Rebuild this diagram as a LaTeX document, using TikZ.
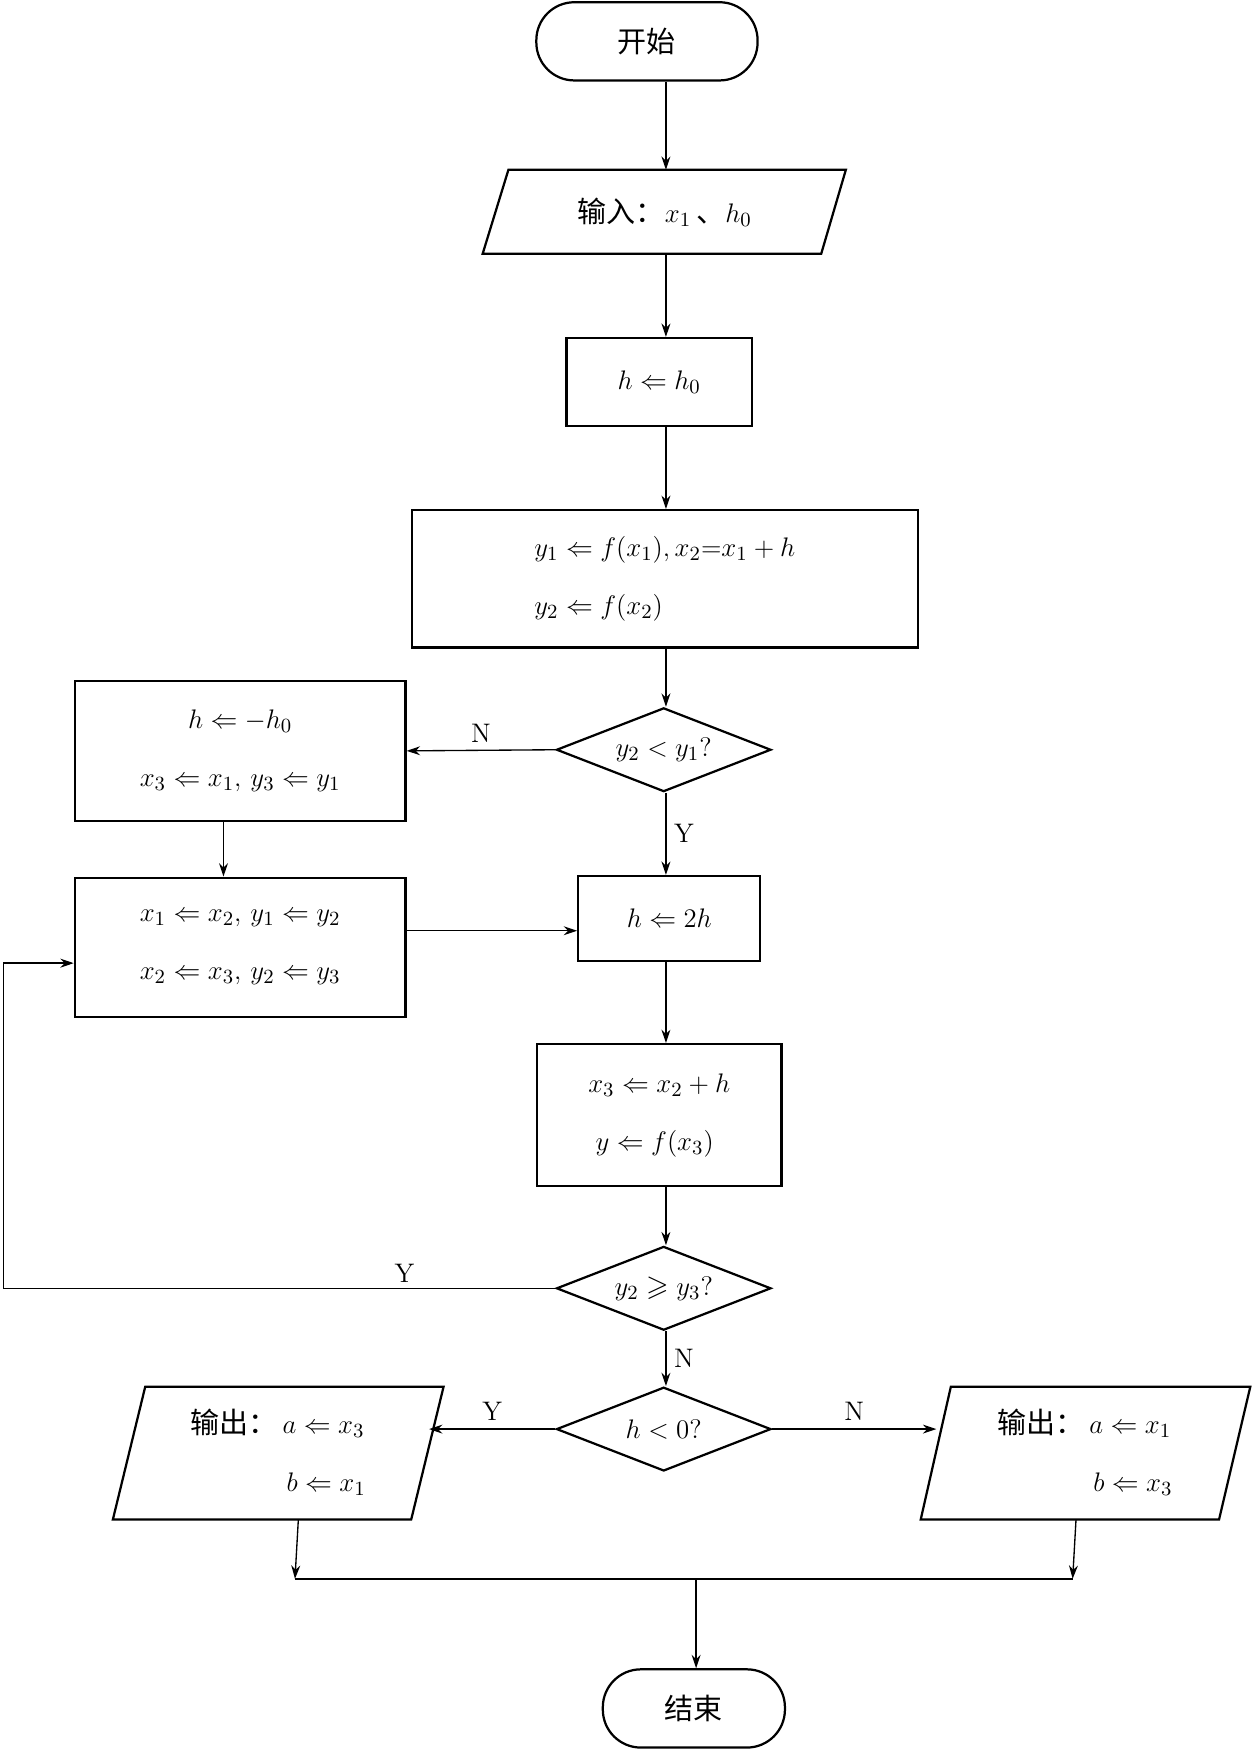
\documentclass[tikz,border=0pt]{standalone}
\usepackage{amssymb}
\usepackage{fontspec}
\newfontfamily\cjk{Noto Sans CJK SC}
\usetikzlibrary{arrows.meta,shapes.geometric}
\begin{document}
\begin{tikzpicture}[x=0.5pt,y=-0.5pt,
  every node/.style={font=\fontsize{13}{26}\selectfont},
  dia/.style={draw,line width=1pt,diamond,minimum width=96pt,minimum height=37.5pt,inner sep=0pt},
  ar/.style={-{Stealth[length=6pt,width=4pt]},line width=0.6pt},
  ln/.style={line width=0.6pt},
  lab/.style={font=\fontsize{12}{14}\selectfont}]
\useasboundingbox (0,0) rectangle (1122,1568);
% start / end
\node[draw,line width=1pt,rounded corners=17pt,minimum width=99pt,minimum height=35pt] (st) at (579,37) {\cjk 开始};
\node[draw,line width=1pt,rounded corners=17pt,minimum width=81.5pt,minimum height=35pt] (en) at (621,1529) {\cjk 结束};
% input parallelogram
\draw[line width=1pt] (455,152)--(757,152)--(735,227)--(432,227)--cycle;
\node (in) at (595,190) {{\cjk 输入：}$x_1$\,{\cjk 、}$h_0$};
\coordinate (inT) at (596,152); \coordinate (inB) at (596,227);
% boxes
\node[draw,line width=1pt,minimum width=83pt,minimum height=39.5pt] (b1) at (590,342) {$h\Leftarrow h_0$};
\node[draw,line width=1pt,minimum width=226.5pt,minimum height=61.5pt,align=left] (b2) at (595,518) {$y_1\Leftarrow f(x_1),x_2{=}x_1+h$\\$y_2\Leftarrow f(x_2)$};
\node[dia] (d1) at (594,671) {};
\node at (594,671) {$y_2<y_1?$};
\node[draw,line width=1pt,minimum width=148pt,minimum height=62.5pt,align=center] (l1) at (215,672) {$h\Leftarrow -h_0$\\$x_3\Leftarrow x_1,\,y_3\Leftarrow y_1$};
\node[draw,line width=1pt,minimum width=81.5pt,minimum height=38pt] (b3) at (599,822) {$h\Leftarrow 2h$};
\node[draw,line width=1pt,minimum width=148pt,minimum height=62.5pt,align=left] (l2) at (215,848) {$x_1\Leftarrow x_2,\,y_1\Leftarrow y_2$\\$x_2\Leftarrow x_3,\,y_2\Leftarrow y_3$};
\node[draw,line width=1pt,minimum width=109.5pt,minimum height=63.5pt,align=left] (b4) at (590,998) {$x_3\Leftarrow x_2+h$\\$\;y\Leftarrow f(x_3)$};
\node[dia] (d2) at (594,1153) {};
\node at (594,1153) {$y_2\geqslant y_3?$};
\node[dia] (d3) at (594,1279) {};
\node at (594,1279) {$h<0?$};
% output parallelograms
\draw[line width=1pt] (130,1241)--(397,1241)--(368,1360)--(101,1360)--cycle;
\node[align=left] (o1) at (249,1300) {{\cjk 输出：}\,$a\Leftarrow x_3$\\\hspace{3.3em}$b\Leftarrow x_1$};
\draw[line width=1pt] (851,1241)--(1119,1241)--(1091,1360)--(824,1360)--cycle;
\node[align=left] (o2) at (971,1300) {{\cjk 输出：}\,$a\Leftarrow x_1$\\\hspace{3.3em}$b\Leftarrow x_3$};
\coordinate (o1R) at (384,1279); \coordinate (o2L) at (838,1279);
\coordinate (o1B) at (267,1360); \coordinate (o2B) at (963,1360);
\coordinate (j1) at (264,1413); \coordinate (j2) at (960,1413); \coordinate (jm) at (623,1413);
% connectors
\draw[ar] (st.south -| inT) -- (inT);
\draw[ar] (inB) -- (b1.north -| inB);
\draw[ar] (b1.south -| inB) -- (b2.north -| inB);
\draw[ar] (b2.south -| inB) -- (d1.north -| inB);
\draw[ar] (d1.west) -- (l1.east) node[lab,midway,above] {N};
\draw[ar] (d1.south -| inB) -- (b3.north -| inB) node[lab,midway,right] {Y};
\coordinate (lx) at (200,0);
\draw[ar] (l1.south -| lx) -- (l2.north -| lx);
\coordinate (hy) at (0,833);
\draw[ar] (l2.east |- hy) -- (b3.west |- hy);
\draw[ar] (b3.south -| inB) -- (b4.north -| inB);
\draw[ar] (b4.south -| inB) -- (d2.north -| inB);
\coordinate (lp) at (3,1153); \coordinate (lq) at (3,862);
\draw[ar] (d2.west) -- (lp) -- (lq) -- (l2.west |- lq);
\node[lab] at (362,1140) {Y};
\draw[ar] (d2.south -| inB) -- (d3.north -| inB) node[lab,midway,right] {N};
\draw[ar] (d3.west) -- (o1R) node[lab,midway,above] {Y};
\draw[ar] (d3.east) -- (o2L) node[lab,midway,above] {N};
\draw[ar] (o1B) -- (j1);
\draw[ar] (o2B) -- (j2);
\draw[ln] (j1) -- (j2);
\draw[ar] (jm) -- (jm |- en.north);
\end{tikzpicture}
\end{document}
